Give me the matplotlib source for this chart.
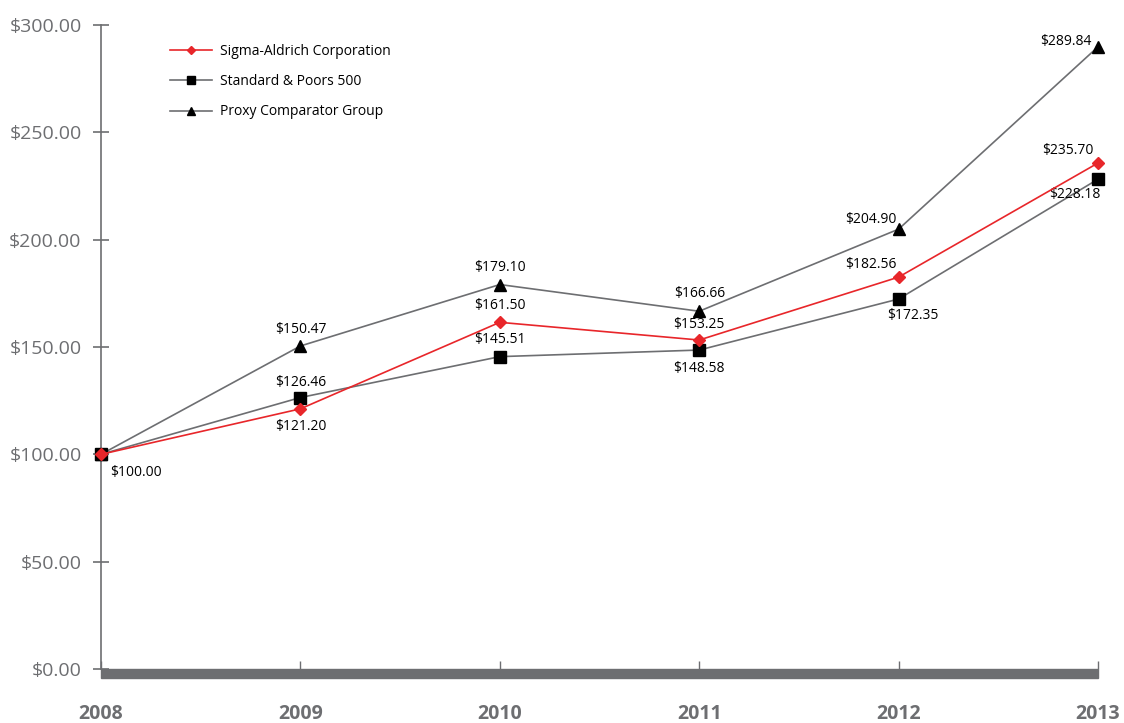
import matplotlib
matplotlib.use("Agg")
import matplotlib.pyplot as plt
from matplotlib.patches import Rectangle

plt.rcParams['font.family'] = ['Open Sans', 'DejaVu Sans']

years = [2008, 2009, 2010, 2011, 2012, 2013]
sigma = [100.00, 121.20, 161.50, 153.25, 182.56, 235.70]
snp = [100.00, 126.46, 145.51, 148.58, 172.35, 228.18]
proxy = [100.00, 150.47, 179.10, 166.66, 204.90, 289.84]
yticks = [0, 50, 100, 150, 200, 250, 300]

GRAY = '#6d6e71'
RED = '#e8262a'

# label offsets in points (dx, dy) per year, 2008 only labelled once
sigma_off = [None, (0, -13), (0, 12), (0, 11), (-20, 9), (-22, 9)]
snp_off = [(25, -13), (0, 11), (0, 12), (0, -13), (10, -12), (-17, -11)]
proxy_off = [None, (0, 12), (0, 12), (0, 13), (-20, 7), (-23, 4)]

fig = plt.figure(figsize=(11.24, 7.23), dpi=100)
ax = fig.add_axes([101 / 1124, 1 - 669 / 723, 997 / 1124, 644 / 723])

ax.plot(years, proxy, color=GRAY, lw=1.2, marker='^', ms=9, mfc='black', mec='black',
        label='Proxy Comparator Group', clip_on=False, zorder=3)
ax.plot(years, snp, color=GRAY, lw=1.2, marker='s', ms=8, mfc='black', mec='black',
        label='Standard & Poors 500', clip_on=False, zorder=3)
ax.plot(years, sigma, color=RED, lw=1.2, marker='D', ms=6.5, mfc=RED, mec=RED,
        label='Sigma-Aldrich Corporation', clip_on=False, zorder=4)

for vals, offs in [(sigma, sigma_off), (snp, snp_off), (proxy, proxy_off)]:
    for x, v, o in zip(years, vals, offs):
        if o is None:
            continue
        ax.annotate('${:.2f}'.format(v), (x, v), xytext=o, textcoords='offset points',
                    ha='center', va='center', fontsize=10, color='black')

ax.set_xlim(2008, 2013)
ax.set_ylim(0, 300)
ax.set_yticks(yticks)
ax.set_yticklabels(['${:.2f}'.format(t) for t in yticks])
ax.set_xticks(years)
ax.set_xticklabels([str(y) for y in years], fontweight='bold')

for s in ['top', 'right', 'bottom']:
    ax.spines[s].set_visible(False)
ax.spines['left'].set_color(GRAY)
ax.spines['left'].set_linewidth(1.2)

ax.tick_params(axis='y', direction='inout', length=12, width=1.2, color=GRAY,
               labelcolor=GRAY, labelsize=14, pad=8)
ax.tick_params(axis='x', direction='in', length=6, width=1, color=GRAY,
               labelcolor=GRAY, labelsize=14, pad=25)

# thick grey base bar under the x axis
fig.add_artist(Rectangle((101 / 1124, 1 - 678 / 723), 997 / 1124, 9 / 723,
                         transform=fig.transFigure, color=GRAY, zorder=1))

handles, labels = ax.get_legend_handles_labels()
leg = ax.legend(handles[::-1], labels[::-1], loc='upper left', bbox_to_anchor=(0.057, 0.99),
                frameon=False, fontsize=10, handlelength=3, labelspacing=1.1,
                markerscale=0.7, handletextpad=0.6)

fig.savefig('out.png', dpi=100)
